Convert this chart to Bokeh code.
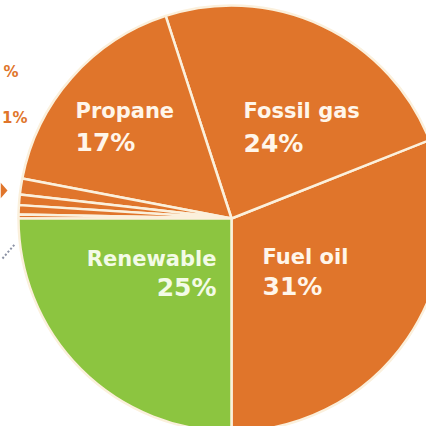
import math
from bokeh.plotting import figure
from bokeh.models import Range1d, ColumnDataSource
from bokeh.core.properties import value
from bokeh.embed import file_html
from bokeh.resources import INLINE

# ---- data ----
categories = ["Fuel oil", "Fossil gas", "Propane", "Kerosene", "Electricity", "Wood", "Other", "Renewable"]
shares = [31, 24, 17, 1.2, 0.8, 0.7, 0.3, 25]
label_pcts = ["31%", "24%", "17%", "", "", "", "", "25%"]
outer_labels = ["%", "1%"]

ORANGE = "#E0752B"
GREEN = "#8CC540"
colors = [ORANGE] * 7 + [GREEN]

# ---- layout ----
R = 213
CX, CY = 231, 218          # pie centre in picture pixels
W = H = 426
start = -math.pi / 2
starts, ends = [], []
acc = start
total = sum(shares)
for s in shares:
    starts.append(acc)
    acc += s / total * 2 * math.pi
    ends.append(acc)

p = figure(width=W, height=H, output_backend="svg", toolbar_location=None,
           x_range=Range1d(-CX, W - CX), y_range=Range1d(CY - H, CY), min_border=0)
p.axis.visible = False
p.grid.visible = False
p.outline_line_color = None
p.background_fill_color = "white"

src = ColumnDataSource(dict(start=starts, end=ends, color=colors, cat=categories))
p.wedge(x=0, y=0, radius=R, start_angle="start", end_angle="end", fill_color="color",
        line_color="#FBF0DC", line_width=2.5, source=src)

# inner labels: (category index, anchor x, name baseline y, pct baseline y, align)
label_layout = [
    (2, -156, 108, 76, "left"),
    (1, 12, 108, 75, "left"),
    (7, -15, -40, -69, "right"),
    (0, 31, -38, -68, "left"),
]
txt_col = "#FFF6EA"
for idx, x, yn, yp, al in label_layout:
    c = "#F3FBE6" if idx == 7 else txt_col
    p.text(x=[x], y=[yn], text=[categories[idx]], text_font=value("DejaVu Sans"),
           text_font_style="bold", text_font_size="21px", text_color=c,
           text_align=al, text_baseline="alphabetic")
    p.text(x=[x], y=[yp], text=[label_pcts[idx]], text_font=value("DejaVu Sans"),
           text_font_style="bold", text_font_size="25px", text_color=c,
           text_align=al, text_baseline="alphabetic")

# outer (cut-off) labels for the small slices
p.text(x=[-213, -204], y=[147, 101], text=outer_labels, text_font=value("DejaVu Sans"),
       text_font_style="bold", text_font_size="15px", text_color=ORANGE,
       text_align="right", text_baseline="alphabetic")

# pointer arrow and dotted leader line
p.patch(x=[-CX, -CX, -CX + 7], y=[36, 20, 28], fill_color=ORANGE, line_color=None)
p.line(x=[-229, -216], y=[-40, -25], line_color="#8C92A4", line_width=2, line_dash="2 2")

open("out.html", "w").write(file_html(p, INLINE))
